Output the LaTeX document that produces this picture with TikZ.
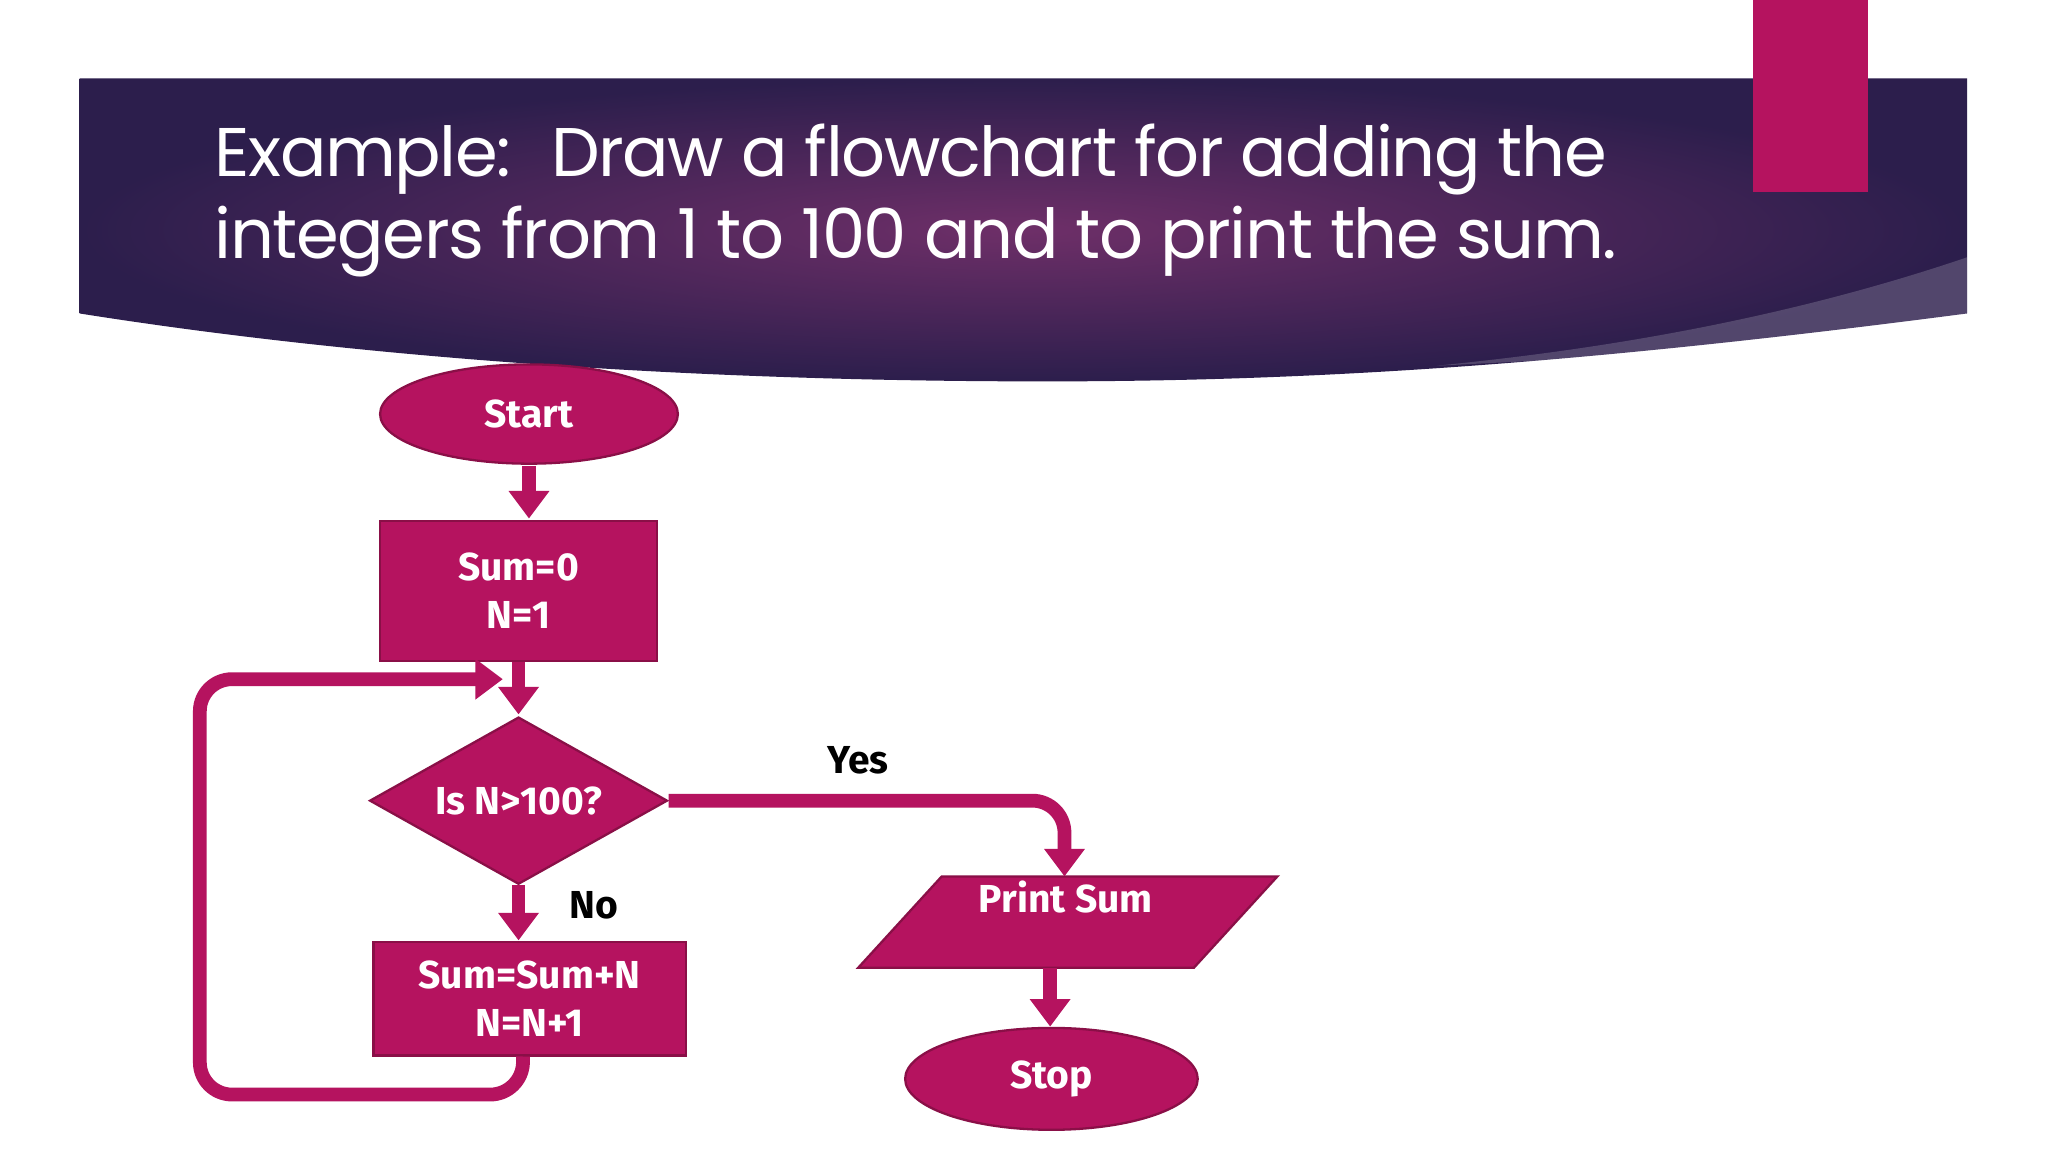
\documentclass[tikz,border=0pt]{standalone}
\usepackage{fontspec}
\setmainfont{Poppins}
\newfontfamily\boxfont{Fira Sans}
\usetikzlibrary{shapes.geometric,arrows.meta}
\definecolor{mag}{HTML}{B5135F}
\definecolor{magd}{HTML}{8A0F47}
\definecolor{bandark}{HTML}{2C1E4C}
\definecolor{banmid}{HTML}{6E2F68}
\begin{document}
\begin{tikzpicture}[x=0.02cm,y=-0.02cm,
  shp/.style={fill=mag,draw=magd,line width=1pt,text=white,font=\boxfont\bfseries\fontsize{17}{21}\selectfont,align=center,inner sep=0pt},
  conn/.style={draw=mag,line width=6pt,-{Triangle[length=12pt,width=17pt]},rounded corners=14pt},
  lbl/.style={font=\boxfont\bfseries\fontsize{17}{21}\selectfont,text=black}]
\useasboundingbox (0,0) rectangle (1568,882);
\fill[white] (0,0) rectangle (1568,882);
% banner
\shade[inner color=banmid,outer color=bandark] (61,60) -- (1506,60) -- (1506,240) .. controls (1200,280) and (1000,292) .. (800,292) .. controls (500,292) and (250,270) .. (61,240) -- cycle;
\fill[white,opacity=0.18] (1506,197) .. controls (1350,250) and (1200,270) .. (1100,280) -- (1300,270) .. controls (1400,258) and (1460,250) .. (1506,240) -- cycle;
\fill[mag] (1342,0) rectangle (1430,147);
\node[anchor=west,text=white,font=\fontsize{30}{36}\selectfont\addfontfeature{LetterSpace=-2}] (title1) at (158,122) {Example:~ Draw a flowchart for adding the};
\node[anchor=west,text=white,font=\fontsize{30}{36}\selectfont\addfontfeature{LetterSpace=-2}] (title2) at (158,185) {integers from 1 to 100 and to print the sum.};
% shapes
\node[shp,ellipse,minimum width=228*0.02cm,minimum height=76*0.02cm] (start) at (405,317) {Start};
\node[shp,rectangle,minimum width=212*0.02cm,minimum height=107*0.02cm] (init) at (397,452.5) {Sum=0\\N=1};
\node[shp,diamond,aspect=1.78,minimum width=228*0.02cm,minimum height=128*0.02cm] (dec) at (397,613) {Is N>100?};
\node[shp,rectangle,minimum width=239*0.02cm,minimum height=87*0.02cm] (upd) at (405.5,764.5) {Sum=Sum+N\\N=N+1};
\fill[mag,draw=magd,line width=1pt] (721,671) -- (978,671) -- (914,741) -- (657,741) -- cycle;
\node[shp,fill=none,draw=none] (print) at (816,687) {Print Sum};
\coordinate (printtop) at (815,671);
\coordinate (printbot) at (804,741);
\node[shp,ellipse,minimum width=224*0.02cm,minimum height=78*0.02cm] (stop) at (805,826) {Stop};
% connectors
\draw[conn] (405,357) -- (405,397);
\draw[conn] (397,507) -- (397,547);
\draw[conn] (dec.east) -- (815,613) -- (printtop);
\draw[conn] (dec.south) -- (397,720);
\draw[conn] (printbot) -- (804,786);
\draw[conn] (upd.south) ++(-5,0) -- (400,838) -- (153,838) -- (153,520) -- (385,520);
\node[lbl] (yes) at (657,582) {Yes};
\node[lbl] (no) at (455,693) {No};
\end{tikzpicture}
\end{document}
